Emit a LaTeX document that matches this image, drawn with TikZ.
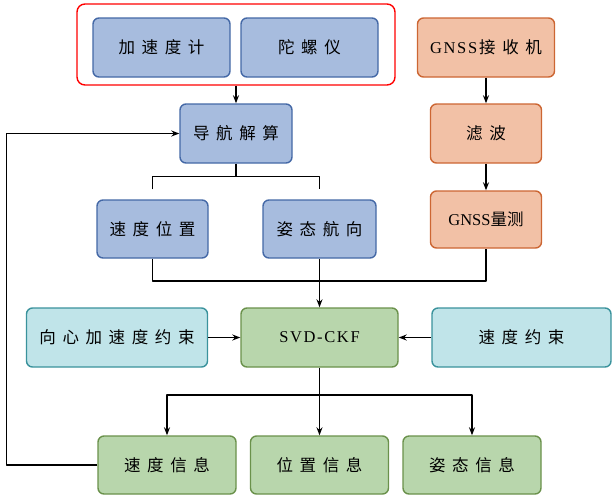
\documentclass[tikz,border=0pt]{standalone}
\usepackage{fontspec}
\usetikzlibrary{arrows.meta}
\setmainfont{Liberation Serif}
\newfontfamily\hz[LetterSpace=40]{Noto Sans CJK SC}
\newfontfamily\hzn{Noto Sans CJK SC}
\newfontfamily\lt[LetterSpace=10]{Liberation Serif}
\definecolor{imufill}{RGB}{167,188,222}
\definecolor{imudraw}{RGB}{68,104,166}
\definecolor{gnssfill}{RGB}{242,193,166}
\definecolor{gnssdraw}{RGB}{204,102,51}
\definecolor{consfill}{RGB}{192,228,233}
\definecolor{consdraw}{RGB}{58,146,156}
\definecolor{ckffill}{RGB}{184,214,172}
\definecolor{ckfdraw}{RGB}{106,145,75}
\begin{document}
\begin{tikzpicture}[x=1pt,y=-1pt,line join=round,>={Stealth[length=8pt,width=6pt]},line width=1.5pt]
	\tikzset{box/.style={rounded corners=6pt,line width=1.4pt,minimum height=59pt,inner sep=0pt,
			font=\fontsize{16.5}{19}\selectfont},
		imu/.style={box,fill=imufill,draw=imudraw},
		gnss/.style={box,fill=gnssfill,draw=gnssdraw},
		cons/.style={box,fill=consfill,draw=consdraw},
		ckf/.style={box,fill=ckffill,draw=ckfdraw},
		sensgrp/.style={draw=red,rounded corners=8pt,line width=1.4pt}}
	\useasboundingbox (0,0) rectangle (612,496);
	% IMU
	\node[sensgrp,minimum width=318pt,minimum height=81pt] (sens) at (236,44.5) {};
	\node[imu,minimum width=137pt] (acc) at (161.5,47.5) {\hz 加速度计};
	\node[imu,minimum width=137pt] (gyro) at (309.5,47.5) {\hz 陀螺仪};
	\node[imu,minimum width=112pt] (nav) at (236,133.5) {\hz 导航解算};
	\node[imu,minimum width=111pt,minimum height=58pt] (vp) at (152.5,229) {\hz 速度位置};
	\node[imu,minimum width=113pt,minimum height=58pt] (att) at (319.5,229) {\hz 姿态航向};
	% GNSS
	\node[gnss,minimum width=137pt] (rcv) at (486,47.5) {{\lt GNSS}\hspace{2pt}{\hz 接收机}};
	\node[gnss,minimum width=111pt] (filt) at (486,133.5) {\hz 滤波};
	\node[gnss,minimum width=111pt,minimum height=57pt] (meas) at (486,219.5) {GNSS{\hzn 量测}};
	% filter
	\node[cons,minimum width=181pt] (cen) at (117,337.5) {\hz 向心加速度约束};
	\node[ckf,minimum width=157pt] (ckf) at (319.5,337.5) {\lt SVD-CKF};
	\node[cons,minimum width=179pt] (vc) at (521.5,337.5) {\hz 速度约束};
	\node[ckf,minimum width=138pt,minimum height=58pt] (vinfo) at (167,465) {\hz 速度信息};
	\node[ckf,minimum width=138pt,minimum height=58pt] (pinfo) at (319.5,465) {\hz 位置信息};
	\node[ckf,minimum width=138pt,minimum height=58pt] (ainfo) at (472,465) {\hz 姿态信息};
	% connectors
	\draw[->] (sens.south) -- (nav.north);
	\draw[->] (rcv) -- (filt);
	\draw[->] (filt) -- (meas);
	\draw (nav.south) -- ++(0,13) coordinate (navsplit);
	\draw ([yshift=10pt]vp.north) |- (navsplit) -| ([yshift=10pt]att.north);
	\coordinate (joinrow) at (0,281);
	\draw (vp.south) |- (meas.south |- joinrow) -- (meas.south);
	\draw[->] (att.south) -- (ckf.north);
	\draw[->] (cen) -- (ckf);
	\draw[->] (vc) -- (ckf);
	\coordinate (outrow) at (0,395);
	\draw[->] (ckf.south) -- (pinfo.north);
	\draw[->] (ckf.south |- outrow) -| (vinfo.north);
	\draw[->] (ckf.south |- outrow) -| (ainfo.north);
	\draw[->] (vinfo.west) -- ++(-91,0) |- (nav.west);
\end{tikzpicture}
\end{document}
